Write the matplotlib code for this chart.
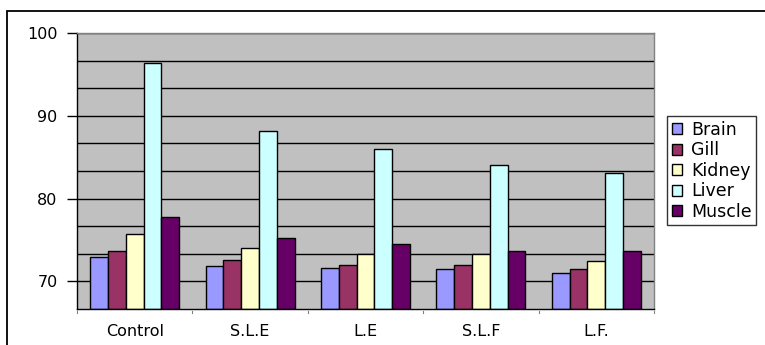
import numpy as np
import matplotlib
matplotlib.use("Agg")
import matplotlib.pyplot as plt
from matplotlib.patches import Rectangle

# ---------------------------
# Data
# ---------------------------
groups = ["Control", "S.L.E", "L.E", "S.L.F", "L.F."]
tissues = ["Brain", "Gill", "Kidney", "Liver", "Muscle"]

brain = [72.9, 71.9, 71.6, 71.45, 71.0]
gill = [73.7, 72.6, 72.0, 72.0, 71.5]
kidney = [75.7, 74.0, 73.3, 73.3, 72.5]
liver = [96.4, 88.2, 86.0, 84.1, 83.1]
muscle = [77.8, 75.3, 74.5, 73.7, 73.7]

colors = ["#9999FF", "#993366", "#FFFFCC", "#CCFFFF", "#660066"]

# ---------------------------
# Plot
# ---------------------------
plt.rcParams["font.family"] = ["DejaVu Sans"]
plt.rcParams["font.size"] = 11.5

fig = plt.figure(figsize=(7.65, 3.45), dpi=100)
ax = fig.add_axes([77 / 765, 1 - 309 / 345, (654 - 77) / 765, (309 - 33) / 345])
ax.set_facecolor("#C0C0C0")

ymin, ymax = 70 - 10 / 3, 100
x = np.arange(len(groups))
width = 0.154
series = [brain, gill, kidney, liver, muscle]
for i, (name, vals, c) in enumerate(zip(tissues, series, colors)):
    ax.bar(x + (i - 2) * width, np.array(vals) - ymin, width, bottom=ymin,
           color=c, edgecolor="black", linewidth=1.0, label=name, zorder=3)

# gridlines every 3.33 units, labels only on the round tens
for g in np.arange(ymin + 10 / 3, ymax + 0.01, 10 / 3):
    ax.axhline(g, color="black", linewidth=1.0, zorder=1)

ax.set_xlim(-0.5, len(groups) - 0.5)
ax.set_ylim(ymin, ymax)
ax.set_yticks([70, 80, 90, 100])
ax.tick_params(axis="y", length=7, width=1, pad=7, colors="black")
ax.set_xticks(x)
ax.set_xticklabels(groups)
ax.tick_params(axis="x", length=0, pad=11)
# small category separators under the axis
for b in np.arange(-0.5, len(groups), 1.0):
    ax.plot([b, b], [ymin - 0.45, ymin - 0.3], color="#808080", lw=0.8,
            clip_on=False, zorder=4)

for side in ["top", "right"]:
    ax.spines[side].set_color("#808080")
ax.spines["left"].set_color("black")
ax.spines["bottom"].set_color("black")
for s in ax.spines.values():
    s.set_linewidth(1.0)
    s.set_zorder(5)

leg = fig.legend(loc="upper left", bbox_to_anchor=(667 / 765, 1 - 116 / 345),
                 frameon=True, fancybox=False, edgecolor="black",
                 fontsize=12.5,
                 handlelength=0.6, handleheight=0.6, handletextpad=0.5,
                 labelspacing=0.14, borderpad=0.28, borderaxespad=0)
leg.get_frame().set_linewidth(1.0)

# outer chart border
fig.patches.append(Rectangle((7 / 765, -0.1), 1.2, 1 - 11 / 345 + 0.1,
                             transform=fig.transFigure, fill=False,
                             edgecolor="black", linewidth=1.3))

fig.savefig("out.png", dpi=100)
